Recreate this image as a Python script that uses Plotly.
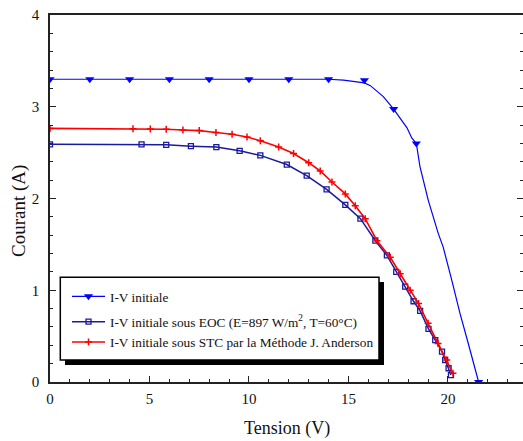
import plotly.graph_objects as go

# ---- data ----
v_init = [0, 2, 4, 6, 8, 10, 12, 13, 14, 14.75, 15.4, 15.8, 16.1, 16.75, 17.27, 17.67, 17.94,
          18.18, 18.41, 18.59, 19.01, 19.51, 19.76, 20.19, 20.6, 21.02, 21.54]
i_init = [3.30, 3.30, 3.30, 3.30, 3.30, 3.30, 3.30, 3.30, 3.30, 3.29, 3.27, 3.26, 3.23, 3.11, 2.975, 2.85, 2.77,
          2.66, 2.60, 2.35, 1.98, 1.62, 1.47, 1.11, 0.75, 0.42, 0.0]
v_init_mk = [0, 2, 4, 6, 8, 10, 12, 14, 15.8, 17.27, 18.41, 21.54]
i_init_mk = [3.30, 3.30, 3.30, 3.30, 3.30, 3.30, 3.30, 3.30, 3.29, 2.975, 2.60, 0.0]

v_eoc = [0, 4.6, 5.84, 7.08, 8.36, 9.53, 10.57, 11.9, 12.9, 13.9, 14.84, 15.6, 16.35, 16.93,
         17.4, 17.85, 18.27, 18.6, 19.02, 19.36, 19.7, 19.86, 20.03, 20.15]
i_eoc = [2.59, 2.59, 2.585, 2.57, 2.56, 2.52, 2.47, 2.37, 2.25, 2.10, 1.93, 1.78, 1.54, 1.38,
         1.20, 1.04, 0.88, 0.775, 0.58, 0.457, 0.33, 0.24, 0.15, 0.076]

v_stc = [0, 4.17, 5.04, 5.84, 6.68, 7.5, 8.34, 9.15, 9.9, 10.57, 11.49, 12.24, 13.0, 13.58,
         14.17, 14.84, 15.34, 15.84, 16.43, 17.1, 17.6, 18.1, 18.52, 19.0, 19.5, 19.94, 20.25]
i_stc = [2.764, 2.76, 2.757, 2.755, 2.746, 2.74, 2.72, 2.70, 2.67, 2.63, 2.56, 2.49, 2.39, 2.30,
         2.18, 2.05, 1.92, 1.78, 1.54, 1.36, 1.18, 1.0, 0.855, 0.64, 0.42, 0.24, 0.095]

names = ["I-V initiale",
         "I-V initiale sous EOC (E=897 W/m<sup>2</sup>, T=60°C)",
         "I-V initiale sous STC par la Méthode J. Anderson"]

x_ticks = [0, 5, 10, 15, 20]
y_ticks = [0, 1, 2, 3, 4]

# ---- layout helpers (pixel -> paper) ----
W, H = 523, 441
L, R, T, B = 50, 0, 15, 59
PW, PH = W - L - R, H - T - B
def px(x):
    return (x - L) / PW
def py(y):
    return (H - B - y) / PH

FONT = "Liberation Serif, Times New Roman, serif"
BLUE = "#0000ff"
NAVY = "#1a1a9c"
RED = "#ff0000"
TXT = "#111"

fig = go.Figure()
# I-V initiale: smooth line + markers on a subset, plus legend entry
fig.add_trace(go.Scatter(x=v_init, y=i_init, mode="lines", line=dict(color=BLUE, width=1.2),
                         showlegend=False, hoverinfo="skip"))
fig.add_trace(go.Scatter(x=v_init_mk, y=i_init_mk, mode="markers", showlegend=False,
                         marker=dict(symbol="triangle-down", size=8, color=BLUE)))
fig.add_trace(go.Scatter(x=[None], y=[None], mode="lines+markers", name=names[0], legend="legend",
                         line=dict(color=BLUE, width=1.2),
                         marker=dict(symbol="triangle-down", size=8, color=BLUE)))
fig.add_trace(go.Scatter(x=v_eoc, y=i_eoc, mode="lines+markers", name=names[1], legend="legend2",
                         line=dict(color=NAVY, width=1.5),
                         marker=dict(symbol="square-open", size=5, color=NAVY, line=dict(width=1.3))))
fig.add_trace(go.Scatter(x=v_stc, y=i_stc, mode="lines+markers", name=names[2], legend="legend2",
                         line=dict(color=RED, width=1.6),
                         marker=dict(symbol="cross-thin", size=5, color=RED, line=dict(width=1.5, color=RED))))
# dummy trace to activate right-side ticks
fig.add_trace(go.Scatter(x=[None], y=[None], yaxis="y2", showlegend=False, hoverinfo="skip"))

axis_common = dict(showgrid=False, zeroline=False, showline=True, linecolor="#222", linewidth=1.5,
                   ticks="inside", tickcolor="#222", tickwidth=1.2, ticklen=6,
                   tickfont=dict(family=FONT, size=15, color=TXT))

legend_common = dict(xanchor="left", yanchor="middle", bgcolor="rgba(0,0,0,0)", borderwidth=0,
                     itemwidth=33,
                     font=dict(family=FONT, size=13.3, color=TXT), traceorder="normal")

fig.update_layout(
    width=W, height=H, margin=dict(l=L, r=R, t=T, b=B),
    paper_bgcolor="white", plot_bgcolor="white",
    xaxis=dict(range=[0, 23.77], tickvals=x_ticks, mirror=True,
               minor=dict(dtick=1, ticks="inside", ticklen=3, tickcolor="#222"),
               ticklabelstandoff=2, **axis_common),
    yaxis=dict(range=[0, 4], tickvals=y_ticks, mirror=False,
               minor=dict(dtick=0.2, ticks="inside", ticklen=3, tickcolor="#222"),
               ticklabelstandoff=6, **axis_common),
    yaxis2=dict(overlaying="y", side="right", matches="y", range=[0, 4], tickvals=y_ticks,
                showticklabels=False, showline=False, showgrid=False, zeroline=False,
                ticks="inside", tickcolor="#222", tickwidth=1.2, ticklen=6,
                minor=dict(dtick=0.2, ticks="inside", ticklen=3, tickcolor="#222")),
    legend=dict(x=px(67), y=py(296.7), **legend_common),
    legend2=dict(x=px(67), y=py(332), **legend_common),
    showlegend=True,
)

# legend box + drop shadow
fig.add_shape(type="rect", xref="paper", yref="paper", x0=px(65), x1=px(384), y0=py(365), y1=py(282),
              fillcolor="black", line=dict(width=0), layer="above")
fig.add_shape(type="rect", xref="paper", yref="paper", x0=px(60.3), x1=px(379), y0=py(360), y1=py(277.3),
              fillcolor="white", line=dict(color="black", width=1.5), layer="above")

# axis titles
fig.add_annotation(text="Courant (A)", xref="paper", yref="paper", x=px(19), y=py(211),
                   xanchor="center", yanchor="middle",
                   textangle=-90, showarrow=False, font=dict(family=FONT, size=19, color=TXT))
fig.add_annotation(text="Tension (V)", xref="paper", yref="paper", x=px(287), y=py(428),
                   xanchor="center", yanchor="middle",
                   showarrow=False, font=dict(family=FONT, size=18, color=TXT))

fig.write_html("out.html", config={"displayModeBar": False},
               post_script="document.body.style.margin='0';document.body.style.overflow='hidden';")
